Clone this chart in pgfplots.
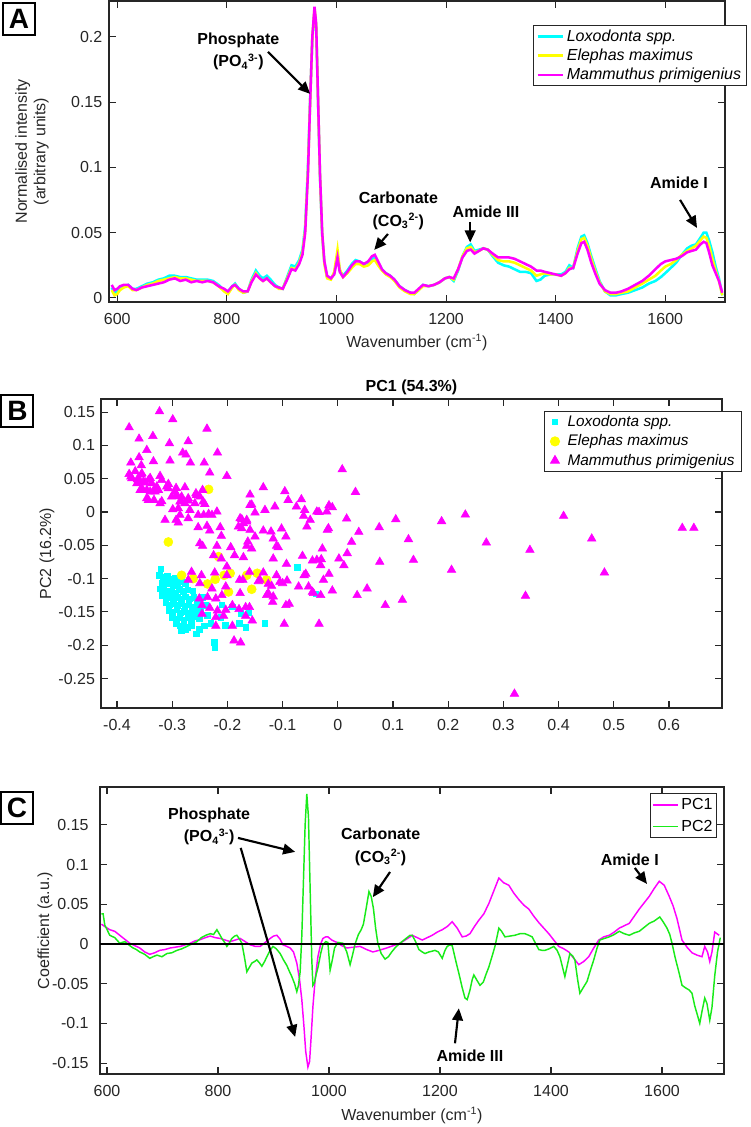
\documentclass[border=0pt]{standalone}
\usepackage{fontspec}
\setmainfont{Liberation Sans}
\usepackage{pgfplots}
\pgfplotsset{compat=1.18}
\usepackage{pgfplotstable}
\usetikzlibrary{arrows.meta}

\definecolor{loxo}{RGB}{0,255,255}
\definecolor{elep}{RGB}{255,255,0}
\definecolor{mamm}{RGB}{255,0,255}
\definecolor{pctwo}{RGB}{25,235,25}
\definecolor{axgray}{RGB}{38,38,38}

% mean spectra: wavenumber, Loxodonta, Elephas, Mammuthus
\pgfplotstableread{
x     L      E      M
590   0.008  0.006  0.010
595   0.004  0.002  0.006
600   0.005  0.003  0.007
605   0.008  0.006  0.009
612   0.009  0.008  0.010
620   0.010  0.009  0.010
628   0.007  0.006  0.007
635   0.007  0.006  0.006
645   0.009  0.008  0.008
655   0.011  0.010  0.009
665   0.012  0.011  0.010
675   0.014  0.013  0.011
685   0.015  0.014  0.012
695   0.017  0.015  0.014
705   0.017  0.016  0.015
715   0.016  0.015  0.013
725   0.016  0.015  0.014
735   0.015  0.014  0.012
745   0.014  0.013  0.013
755   0.014  0.013  0.012
765   0.014  0.013  0.013
775   0.013  0.012  0.012
785   0.010  0.009  0.009
795   0.006  0.005  0.007
802   0.005  0.003  0.005
810   0.009  0.008  0.009
815   0.011  0.010  0.010
822   0.007  0.006  0.007
830   0.004  0.004  0.005
838   0.005  0.005  0.005
845   0.014  0.013  0.012
853   0.021  0.019  0.018
860   0.017  0.015  0.015
866   0.015  0.013  0.013
873   0.017  0.015  0.015
880   0.014  0.012  0.012
888   0.010  0.009  0.009
895   0.008  0.007  0.008
902   0.007  0.007  0.007
910   0.016  0.015  0.014
918   0.025  0.023  0.022
925   0.024  0.022  0.021
932   0.029  0.027  0.026
938   0.037  0.035  0.033
943   0.055  0.052  0.050
948   0.100  0.097  0.095
952   0.152  0.150  0.150
956   0.198  0.199  0.200
960   0.220  0.222  0.223
963   0.208  0.209  0.210
966   0.158  0.159  0.160
970   0.093  0.094  0.095
974   0.048  0.049  0.050
978   0.027  0.026  0.028
983   0.016  0.015  0.017
990   0.015  0.014  0.015
996   0.019  0.020  0.018
1002  0.033  0.037  0.031
1006  0.021  0.022  0.020
1012  0.017  0.016  0.016
1020  0.021  0.019  0.020
1028  0.026  0.023  0.025
1035  0.029  0.026  0.028
1042  0.028  0.026  0.028
1050  0.026  0.024  0.026
1058  0.027  0.025  0.028
1065  0.030  0.028  0.032
1070  0.031  0.029  0.033
1076  0.027  0.025  0.028
1083  0.022  0.021  0.022
1090  0.019  0.018  0.019
1098  0.017  0.016  0.017
1106  0.014  0.013  0.014
1115  0.009  0.008  0.009
1125  0.006  0.005  0.006
1135  0.004  0.003  0.004
1142  0.003  0.003  0.004
1150  0.006  0.006  0.007
1158  0.010  0.009  0.010
1168  0.009  0.009  0.009
1178  0.010  0.010  0.010
1188  0.012  0.012  0.012
1198  0.015  0.015  0.015
1206  0.016  0.016  0.016
1214  0.013  0.014  0.015
1222  0.021  0.022  0.022
1230  0.032  0.032  0.031
1238  0.039  0.038  0.036
1245  0.041  0.039  0.037
1252  0.036  0.035  0.034
1260  0.037  0.036  0.036
1268  0.038  0.038  0.038
1276  0.037  0.037  0.037
1285  0.032  0.033  0.034
1295  0.027  0.029  0.031
1305  0.025  0.028  0.031
1315  0.024  0.028  0.031
1325  0.022  0.027  0.030
1335  0.020  0.025  0.028
1345  0.020  0.023  0.026
1355  0.019  0.021  0.024
1365  0.013  0.017  0.021
1372  0.014  0.018  0.021
1380  0.017  0.019  0.020
1390  0.018  0.018  0.019
1400  0.018  0.018  0.018
1410  0.018  0.017  0.017
1418  0.020  0.019  0.019
1425  0.025  0.023  0.022
1432  0.023  0.023  0.023
1440  0.038  0.036  0.034
1447  0.047  0.045  0.042
1452  0.048  0.046  0.043
1458  0.042  0.040  0.037
1465  0.032  0.030  0.027
1472  0.023  0.021  0.019
1480  0.013  0.012  0.011
1490  0.005  0.005  0.006
1500  0.002  0.003  0.004
1510  0.002  0.003  0.004
1520  0.003  0.004  0.005
1532  0.004  0.005  0.007
1545  0.006  0.008  0.010
1558  0.008  0.011  0.013
1570  0.011  0.014  0.017
1582  0.013  0.017  0.022
1592  0.016  0.021  0.026
1600  0.019  0.024  0.028
1610  0.023  0.026  0.029
1620  0.027  0.029  0.030
1630  0.033  0.033  0.032
1640  0.038  0.036  0.035
1648  0.040  0.038  0.036
1656  0.041  0.040  0.037
1664  0.046  0.044  0.041
1670  0.050  0.047  0.043
1675  0.050  0.046  0.042
1680  0.044  0.040  0.035
1686  0.035  0.030  0.025
1692  0.024  0.021  0.019
1698  0.015  0.013  0.013
1704  0.002  0.002  0.004
}\spectra

% PCA scores (PC1, PC2)
\pgfplotstableread{
pc1    pc2
-0.321 -0.085
-0.323 -0.095
-0.316 -0.098
-0.309 -0.096
-0.302 -0.100
-0.295 -0.099
-0.318 -0.106
-0.311 -0.108
-0.305 -0.105
-0.298 -0.110
-0.290 -0.107
-0.284 -0.104
-0.276 -0.108
-0.322 -0.115
-0.315 -0.117
-0.308 -0.119
-0.301 -0.118
-0.294 -0.121
-0.287 -0.116
-0.280 -0.119
-0.272 -0.117
-0.263 -0.118
-0.318 -0.125
-0.311 -0.128
-0.304 -0.127
-0.297 -0.130
-0.290 -0.128
-0.283 -0.131
-0.276 -0.127
-0.269 -0.130
-0.261 -0.128
-0.312 -0.136
-0.305 -0.139
-0.298 -0.137
-0.291 -0.140
-0.284 -0.138
-0.277 -0.141
-0.270 -0.139
-0.262 -0.142
-0.255 -0.137
-0.306 -0.148
-0.299 -0.150
-0.292 -0.147
-0.285 -0.151
-0.278 -0.149
-0.271 -0.152
-0.264 -0.148
-0.257 -0.151
-0.249 -0.146
-0.300 -0.158
-0.293 -0.161
-0.286 -0.159
-0.279 -0.162
-0.272 -0.158
-0.265 -0.161
-0.258 -0.157
-0.251 -0.160
-0.293 -0.168
-0.286 -0.171
-0.279 -0.169
-0.272 -0.173
-0.265 -0.170
-0.284 -0.178
-0.276 -0.176
-0.256 -0.183
-0.251 -0.176
-0.242 -0.171
-0.230 -0.167
-0.204 -0.170
-0.179 -0.167
-0.167 -0.173
-0.132 -0.167
-0.224 -0.196
-0.223 -0.204
-0.161 -0.151
-0.176 -0.152
-0.191 -0.142
-0.210 -0.139
-0.240 -0.140
-0.073 -0.083
-0.040 -0.123
-0.246 -0.128
-0.237 -0.155
-0.212 -0.158
}\loxodonta

\pgfplotstableread{
pc1    pc2
-0.234  0.034
-0.307 -0.045
-0.216 -0.067
-0.283 -0.095
-0.262 -0.100
-0.236 -0.108
-0.222 -0.101
-0.206 -0.095
-0.195 -0.092
-0.165 -0.095
-0.146 -0.092
-0.129 -0.102
-0.156 -0.116
-0.198 -0.120
}\elephas

\pgfplotstableread{
pc1    pc2
-0.378  0.127
-0.323  0.151
-0.299  0.139
-0.237  0.125
-0.335  0.114
-0.360  0.110
-0.305  0.103
-0.271  0.106
-0.346  0.093
-0.281  0.089
-0.275  0.086
-0.218  0.089
-0.360  0.082
-0.375  0.074
-0.356  0.070
-0.334  0.076
-0.304  0.077
-0.267  0.074
-0.242  0.074
-0.232  0.059
-0.201  0.054
-0.378  0.057
-0.375  0.053
-0.367  0.061
-0.363  0.049
-0.358  0.046
-0.356  0.056
-0.349  0.044
-0.340  0.051
-0.337  0.043
-0.322  0.054
-0.319  0.048
-0.307  0.042
-0.355  0.036
-0.346  0.033
-0.334  0.032
-0.325  0.033
-0.343  0.018
-0.333  0.018
-0.319  0.016
-0.293  0.036
-0.277  0.037
-0.291  0.024
-0.283  0.016
-0.271  0.017
-0.259  0.013
-0.250  0.023
-0.241  0.012
-0.257  0.028
-0.245  0.033
-0.355  0.058
-0.373  0.0506
-0.361  0.048
-0.364  0.043
-0.352  0.0456
-0.343  0.048
-0.328  0.038
-0.310  0.038
-0.307  0.0356
-0.295  0.0305
-0.358  0.033
-0.340  0.0305
-0.331  0.0305
-0.346  0.0206
-0.322  0.013
-0.301  0.023
-0.292  0.0255
-0.283  0.023
-0.286  0.0155
-0.271  0.0206
-0.256  0.0255
-0.277  0.013
-0.244  0.0155
-0.299  0.004
-0.289  0.0055
-0.268  0.003
-0.313 -0.012
-0.293 -0.012
-0.286 -0.0045
-0.271 -0.0095
-0.289 -0.016
-0.253 -0.0045
-0.243 -0.0045
-0.234 -0.003
-0.228 -0.0045
-0.219  0.0005
-0.253 -0.023
-0.237 -0.021
-0.213 -0.023
-0.232 -0.028
-0.211 -0.036
-0.250 -0.047
-0.245 -0.051
-0.219 -0.051
-0.194 -0.053
-0.225 -0.065
-0.211 -0.070
-0.187 -0.065
-0.171 -0.068
-0.201 -0.082
-0.265 -0.090
-0.247 -0.095
-0.223 -0.091
-0.201 -0.095
-0.178 -0.102
-0.160 -0.090
-0.271 -0.102
-0.250 -0.107
-0.228 -0.115
-0.203 -0.112
-0.177 -0.122
-0.141 -0.102
-0.126 -0.108
-0.111 -0.095
-0.100 -0.107
-0.092 -0.103
-0.071 -0.112
-0.061 -0.095
-0.053 -0.112
-0.044 -0.122
-0.126 -0.122
-0.117 -0.127
-0.177 -0.0095
-0.171 -0.017
-0.165 -0.012
-0.180 -0.022
-0.159  0.026
-0.135  0.037
-0.156  0.011
-0.150 -0.001
-0.132  0.003
-0.114  0.008
-0.096  0.031
-0.090  0.018
-0.075  0.008
-0.066  0.019
-0.060  0.003
-0.062 -0.006
-0.050 -0.012
-0.038  0.0005
-0.056 -0.022
-0.159 -0.027
-0.135 -0.028
-0.117 -0.040
-0.102 -0.025
-0.150 -0.037
-0.165 -0.051
-0.156 -0.055
-0.117 -0.070
-0.111 -0.051
-0.108 -0.053
-0.094 -0.037
-0.064 -0.066
-0.038 -0.072
-0.093 -0.078
-0.058 -0.093
-0.159  0.0105
-0.174 -0.011
-0.165 -0.0145
-0.174 -0.0245
-0.121 -0.0295
-0.017 -0.0245
-0.020  0.0005
-0.163 -0.0445
-0.030 -0.071
-0.135 -0.091
-0.172 -0.102
-0.144 -0.104
-0.120 -0.111
-0.105 -0.105
-0.026 -0.102
-0.129 -0.125
-0.251 -0.130
-0.236 -0.128
-0.221 -0.130
-0.210 -0.125
-0.246 -0.140
-0.232 -0.144
-0.218 -0.148
-0.203 -0.147
-0.191 -0.140
-0.179 -0.146
-0.167 -0.143
-0.160 -0.143
-0.246 -0.153
-0.221 -0.158
-0.207 -0.156
-0.167 -0.156
-0.155 -0.163
-0.221 -0.171
-0.191 -0.171
-0.188 -0.193
-0.176 -0.196
-0.118 -0.135
-0.094 -0.140
-0.088 -0.138
-0.097 -0.168
-0.034 -0.168
 0.008  0.064
 0.032  0.030
 0.016 -0.010
-0.016  0.010
-0.010  0.007
-0.019 -0.027
-0.034  0.000
 0.038 -0.030
 0.025 -0.045
 0.017 -0.062
-0.028 -0.055
 0.002 -0.070
 0.011 -0.080
-0.031 -0.080
-0.046 -0.073
-0.016 -0.093
 0.053 -0.115
 0.035 -0.125
-0.010 -0.118
-0.031 -0.125
-0.046 -0.120
 0.075 -0.023
 0.105 -0.011
 0.188 -0.014
 0.231 -0.004
 0.128 -0.041
 0.269 -0.046
 0.348 -0.057
 0.409 -0.006
 0.460 -0.040
 0.624 -0.024
 0.645 -0.024
 0.076 -0.075
 0.137 -0.072
 0.206 -0.087
 0.483 -0.091
 0.086 -0.140
 0.117 -0.132
 0.340 -0.126
 0.320 -0.273
}\mammuthus

% PC loadings
\pgfplotstableread{
x    c
590  0.025
596  0.022
605  0.018
614  0.016
623  0.011
632  0.006
641  0.001
650 -0.002
659 -0.005
668 -0.010
677 -0.013
686 -0.011
695 -0.008
704 -0.007
714 -0.005
723 -0.004
732 -0.003
741 -0.001
750  0.001
759  0.004
768  0.0055
777  0.008
786  0.010
795  0.008
804  0.007
813  0.005
822  0.003
831  0.005
840  0.007
849  0.003
858 -0.001
867 -0.003
876 -0.003
885  0.002
894  0.007
900  0.010
906  0.011
912  0.006
917 -0.001
924 -0.003
930 -0.005
936 -0.010
942 -0.024
947 -0.045
951 -0.070
955 -0.105
958 -0.135
962 -0.155
965 -0.148
968 -0.115
971 -0.079
975 -0.045
980 -0.016
985  0.000
989  0.007
994  0.009
998  0.009
1005 0.005
1014 0.002
1023 -0.002
1032 -0.005
1044 -0.004
1056 -0.003
1068 -0.007
1079 -0.010
1090 -0.008
1104 -0.005
1116 -0.002
1128 0.001
1137 0.005
1146 0.009
1150 0.011
1159 0.008
1168 0.005
1177 0.008
1186 0.011
1195 0.015
1204 0.018
1213 0.022
1222 0.028
1231 0.020
1240 0.009
1247 0.010
1254 0.013
1262 0.022
1270 0.030
1279 0.038
1288 0.051
1297 0.067
1306 0.083
1315 0.077
1324 0.074
1333 0.064
1342 0.056
1351 0.049
1360 0.044
1369 0.035
1378 0.027
1387 0.020
1396 0.013
1405 0.005
1414 -0.003
1423 -0.006
1432 -0.010
1441 -0.018
1450 -0.026
1459 -0.022
1468 -0.016
1477 -0.005
1486 0.005
1495 0.009
1505 0.011
1514 0.015
1523 0.020
1532 0.023
1541 0.026
1550 0.035
1559 0.044
1568 0.052
1577 0.060
1586 0.070
1595 0.079
1604 0.074
1613 0.060
1620 0.048
1627 0.032
1636 0.005
1645 -0.004
1654 -0.011
1663 -0.014
1672 -0.016
1677 -0.003
1682 -0.010
1686 -0.022
1690 -0.010
1695 0.015
1703 0.011
}\loadone

\pgfplotstableread{
x    c
590  0.038
593  0.038
596  0.024
605  0.011
614  0.008
623  0.001
632  0.003
641 -0.002
647 -0.005
653 -0.007
659 -0.010
668 -0.013
677 -0.018
683 -0.016
690 -0.014
699 -0.016
708 -0.012
717 -0.011
726 -0.008
735 -0.006
744 -0.003
753  0.000
762  0.003
770  0.008
778  0.011
786  0.013
792  0.012
798  0.018
803  0.012
807  0.007
812  0.002
816 -0.003
820  0.001
825  0.007
830  0.010
834  0.011
839  0.006
843  0.001
848 -0.018
852 -0.035
856 -0.030
861 -0.024
866 -0.022
870 -0.020
875 -0.024
879 -0.028
884 -0.022
888 -0.016
894 -0.008
899 -0.003
905 -0.006
912 -0.012
918 -0.020
924 -0.027
929 -0.035
933 -0.041
938 -0.050
942 -0.060
945 -0.052
948 -0.035
951  0.010
954  0.080
957  0.150
960  0.189
963  0.160
965  0.100
967  0.040
969 -0.020
971 -0.052
974 -0.048
977 -0.038
980 -0.030
985 -0.012
989 -0.001
994  0.003
998  0.002
1002 -0.033
1006 -0.020
1010 -0.005
1016  0.002
1025  0.001
1032 -0.010
1038 -0.026
1042 -0.015
1047  0.000
1053  0.012
1058  0.018
1062  0.025
1067  0.045
1072  0.066
1076  0.060
1080  0.045
1084  0.020
1088  0.001
1094 -0.012
1101 -0.019
1107 -0.016
1113 -0.010
1120 -0.004
1128  0.001
1137  0.006
1146  0.011
1150  0.011
1156  0.003
1162 -0.007
1168 -0.010
1173 -0.012
1180 -0.010
1186 -0.009
1191 -0.008
1197 -0.010
1204 -0.018
1209 -0.008
1213 -0.003
1218 -0.001
1222 -0.002
1228 -0.020
1234 -0.037
1240 -0.055
1245 -0.068
1249 -0.070
1254 -0.058
1258 -0.045
1261 -0.039
1266 -0.045
1272 -0.052
1278 -0.048
1283 -0.038
1288 -0.029
1294 -0.015
1299 -0.003
1303  0.010
1306  0.020
1311  0.016
1317  0.009
1326  0.010
1335  0.011
1344  0.013
1353  0.013
1360  0.011
1366  0.009
1372  0.001
1378 -0.007
1384 -0.008
1389 -0.008
1397 -0.006
1405 -0.003
1411 -0.008
1416 -0.016
1421 -0.030
1425 -0.041
1429 -0.028
1434 -0.012
1439 -0.015
1443 -0.020
1448 -0.045
1452 -0.062
1458 -0.055
1465 -0.047
1471 -0.033
1477 -0.020
1483 -0.005
1488  0.005
1496  0.007
1505  0.009
1514  0.012
1523  0.016
1532  0.013
1541  0.011
1550  0.014
1559  0.016
1568  0.021
1577  0.026
1586  0.029
1596  0.034
1602  0.028
1609  0.020
1614  0.012
1618  0.001
1624 -0.018
1631 -0.037
1636 -0.052
1642 -0.055
1649 -0.058
1654 -0.062
1659 -0.078
1664 -0.090
1668 -0.100
1672 -0.085
1677 -0.068
1681 -0.075
1686 -0.096
1690 -0.080
1695 -0.040
1700 -0.010
1705  0.008
}\loadtwo

\newcommand{\fs}{\fontsize{12}{14}\selectfont}

\pgfplotsset{
  panel/.style={
    scale only axis,
    axis line style={line width=0.9pt, axgray},
    every tick/.style={line width=0.8pt, axgray},
    major tick length=5pt,
    tick align=inside,
    ticklabel style={font=\fs, text=axgray},
    xticklabel style={yshift=-5pt},
    label style={font=\fs, text=axgray},
    legend cell align=left,
  },
}
\tikzset{
  annot/.style={font=\bfseries\fontsize{12}{17}\selectfont, align=center, text=black},
  pointer/.style={line width=1.6pt, black, -{Triangle[length=9pt, width=8pt]}},
  panellabel/.style={draw=black, line width=1.5pt, minimum size=24pt, inner sep=0pt,
    font=\bfseries\fontsize{21}{21}\selectfont},
}

\begin{document}
\begin{tikzpicture}
\useasboundingbox (0,0) rectangle (562.5pt,-845.25pt);

% ---------------- A: mean spectra ----------------
\begin{axis}[panel,
  at={(81.75pt,-0.75pt)}, anchor=north west,
  width=462pt, height=225.75pt,
  xmin=585, xmax=1709, ymin=-0.0031, ymax=0.2274,
  xtick={600,800,1000,1200,1400,1600},
  xticklabels={600,800,1000,1200,1400,1600},
  ytick={0,0.05,0.1,0.15,0.2},
  yticklabels={0,0.05,0.1,0.15,0.2},
  yticklabel style={xshift=-1.5pt},
  xlabel={Wavenumber (cm\textsuperscript{-1})},
  ylabel={Normalised intensity\\(arbitrary units)},
  xlabel style={at={(axis description cs:0.5,-0.135)}, anchor=center},
  ylabel style={align=center, at={(axis description cs:-0.125,0.5)}, anchor=center},
  legend style={at={(1.0357,0.920)}, anchor=north east, draw=axgray, line width=0.8pt,
    font=\itshape\fs, inner xsep=2pt, inner ysep=1pt, row sep=0.3pt},
  legend image code/.code={\draw[#1] (0pt,0pt) -- (19pt,0pt);},
]
\addplot[loxo, line width=1.9pt] table[x=x, y=L] {\spectra};
\addplot[elep, line width=1.9pt] table[x=x, y=E] {\spectra};
\addplot[mamm, line width=1.9pt] table[x=x, y=M] {\spectra};
\legend{Loxodonta spp., Elephas maximus, Mammuthus primigenius}
\node[annot] at (axis cs:821,0.1888) {Phosphate\\(PO\textsubscript{4}\textsuperscript{3-})};
\draw[pointer] (axis cs:875,0.1884) -- (axis cs:952,0.1563);
\node[annot] at (axis cs:1113,0.0666) {Carbonate\\(CO\textsubscript{3}\textsuperscript{2-})};
\draw[pointer] (axis cs:1094,0.0490) -- (axis cs:1069,0.0368);
\node[annot] at (axis cs:1273,0.0659) {Amide III};
\draw[pointer] (axis cs:1244,0.0582) -- (axis cs:1244,0.0425);
\node[annot] at (axis cs:1625,0.0881) {Amide I};
\draw[pointer] (axis cs:1627,0.0751) -- (axis cs:1658,0.0536);
\end{axis}

% ---------------- B: PCA scores ----------------
\begin{axis}[panel,
  at={(75.75pt,-299.25pt)}, anchor=north west,
  width=465.75pt, height=231.75pt,
  xmin=-0.429, xmax=0.696, ymin=-0.2943, ymax=0.1697,
  xtick={-0.4,-0.3,-0.2,-0.1,0,0.1,0.2,0.3,0.4,0.5,0.6},
  xticklabels={-0.4,-0.3,-0.2,-0.1,0,0.1,0.2,0.3,0.4,0.5,0.6},
  ytick={-0.25,-0.2,-0.15,-0.1,-0.05,0,0.05,0.1,0.15},
  yticklabels={-0.25,-0.2,-0.15,-0.1,-0.05,0,0.05,0.1,0.15},
  yticklabel style={xshift=-1pt},
  title={PC1 (54.3\%)},
  title style={font=\bfseries\fs, text=black, at={(axis description cs:0.5,1)}, anchor=center, yshift=2.5pt},
  ylabel={PC2 (16.2\%)},
  ylabel style={at={(axis description cs:-0.087,0.5)}, anchor=center},
  legend style={at={(1.032,0.961)}, anchor=north east, draw=axgray, line width=0.8pt,
    font=\itshape\fontsize{11.5}{13}\selectfont, inner xsep=3pt, inner ysep=1pt, row sep=0.6pt},
  legend image code/.code={\path[draw=none] (0pt,0pt) -- (12.5pt,0pt);
    \path[#1, draw=none] plot coordinates {(5pt,0pt)};},
]
\addplot[only marks, mark=square*, mark size=2.1pt, mark options={draw=loxo, fill=loxo}] table[x=pc1, y=pc2] {\loxodonta};
\addplot[only marks, mark=*, mark size=3.4pt, mark options={draw=elep, fill=elep}] table[x=pc1, y=pc2] {\elephas};
\addplot[only marks, mark=triangle*, mark size=3.7pt, mark options={draw=mamm, fill=mamm}] table[x=pc1, y=pc2] {\mammuthus};
\legend{Loxodonta spp., Elephas maximus, Mammuthus primigenius}
\end{axis}

% ---------------- C: PC loadings ----------------
\begin{axis}[panel,
  at={(75pt,-590.25pt)}, anchor=north west,
  width=468pt, height=215.25pt,
  xmin=587.4, xmax=1711.7, ymin=-0.1637, ymax=0.1977,
  xtick={600,800,1000,1200,1400,1600},
  xticklabels={600,800,1000,1200,1400,1600},
  ytick={-0.15,-0.1,-0.05,0,0.05,0.1,0.15},
  yticklabels={-0.15,-0.1,-0.05,0,0.05,0.1,0.15},
  yticklabel style={xshift=-5pt},
  xlabel={Wavenumber (cm\textsuperscript{-1})},
  ylabel={Coefficient (a.u.)},
  xlabel style={at={(axis description cs:0.5,-0.145)}, anchor=center},
  ylabel style={at={(axis description cs:-0.088,0.5)}, anchor=center},
  legend style={at={(0.989,0.979)}, anchor=north east, draw=axgray, line width=0.8pt,
    font=\fs, inner xsep=1pt, inner ysep=1.5pt, row sep=2.5pt},
  legend image code/.code={\draw[#1] (0pt,0pt) -- (19pt,0pt);},
]
\addplot[mamm, line width=1.1pt] table[x=x, y=c] {\loadone};
\addplot[pctwo, line width=1.1pt] table[x=x, y=c] {\loadtwo};
\legend{PC1, PC2}
\draw[black, line width=1pt] (axis cs:587.4,0) -- (axis cs:1711.7,0);
\node[annot] at (axis cs:784,0.148) {Phosphate\\(PO\textsubscript{4}\textsuperscript{3-})};
\draw[pointer] (axis cs:836,0.1336) -- (axis cs:939,0.116);
\draw[pointer] (axis cs:841,0.121) -- (axis cs:939,-0.117);
\node[annot] at (axis cs:1093,0.122) {Carbonate\\(CO\textsubscript{3}\textsuperscript{2-})};
\draw[pointer] (axis cs:1110,0.0907) -- (axis cs:1079,0.059);
\node[annot] at (axis cs:1254,-0.141) {Amide III};
\draw[pointer] (axis cs:1227,-0.125) -- (axis cs:1234,-0.081);
\node[annot] at (axis cs:1542,0.106) {Amide I};
\draw[pointer] (axis cs:1551,0.0958) -- (axis cs:1573,0.0756);
\end{axis}

% panel letters
\node[panellabel] at (14.25pt,-13.9pt) {A};
\node[panellabel] at (13.1pt,-308.25pt) {B};
\node[panellabel] at (12.75pt,-606pt) {C};
\end{tikzpicture}
\end{document}
